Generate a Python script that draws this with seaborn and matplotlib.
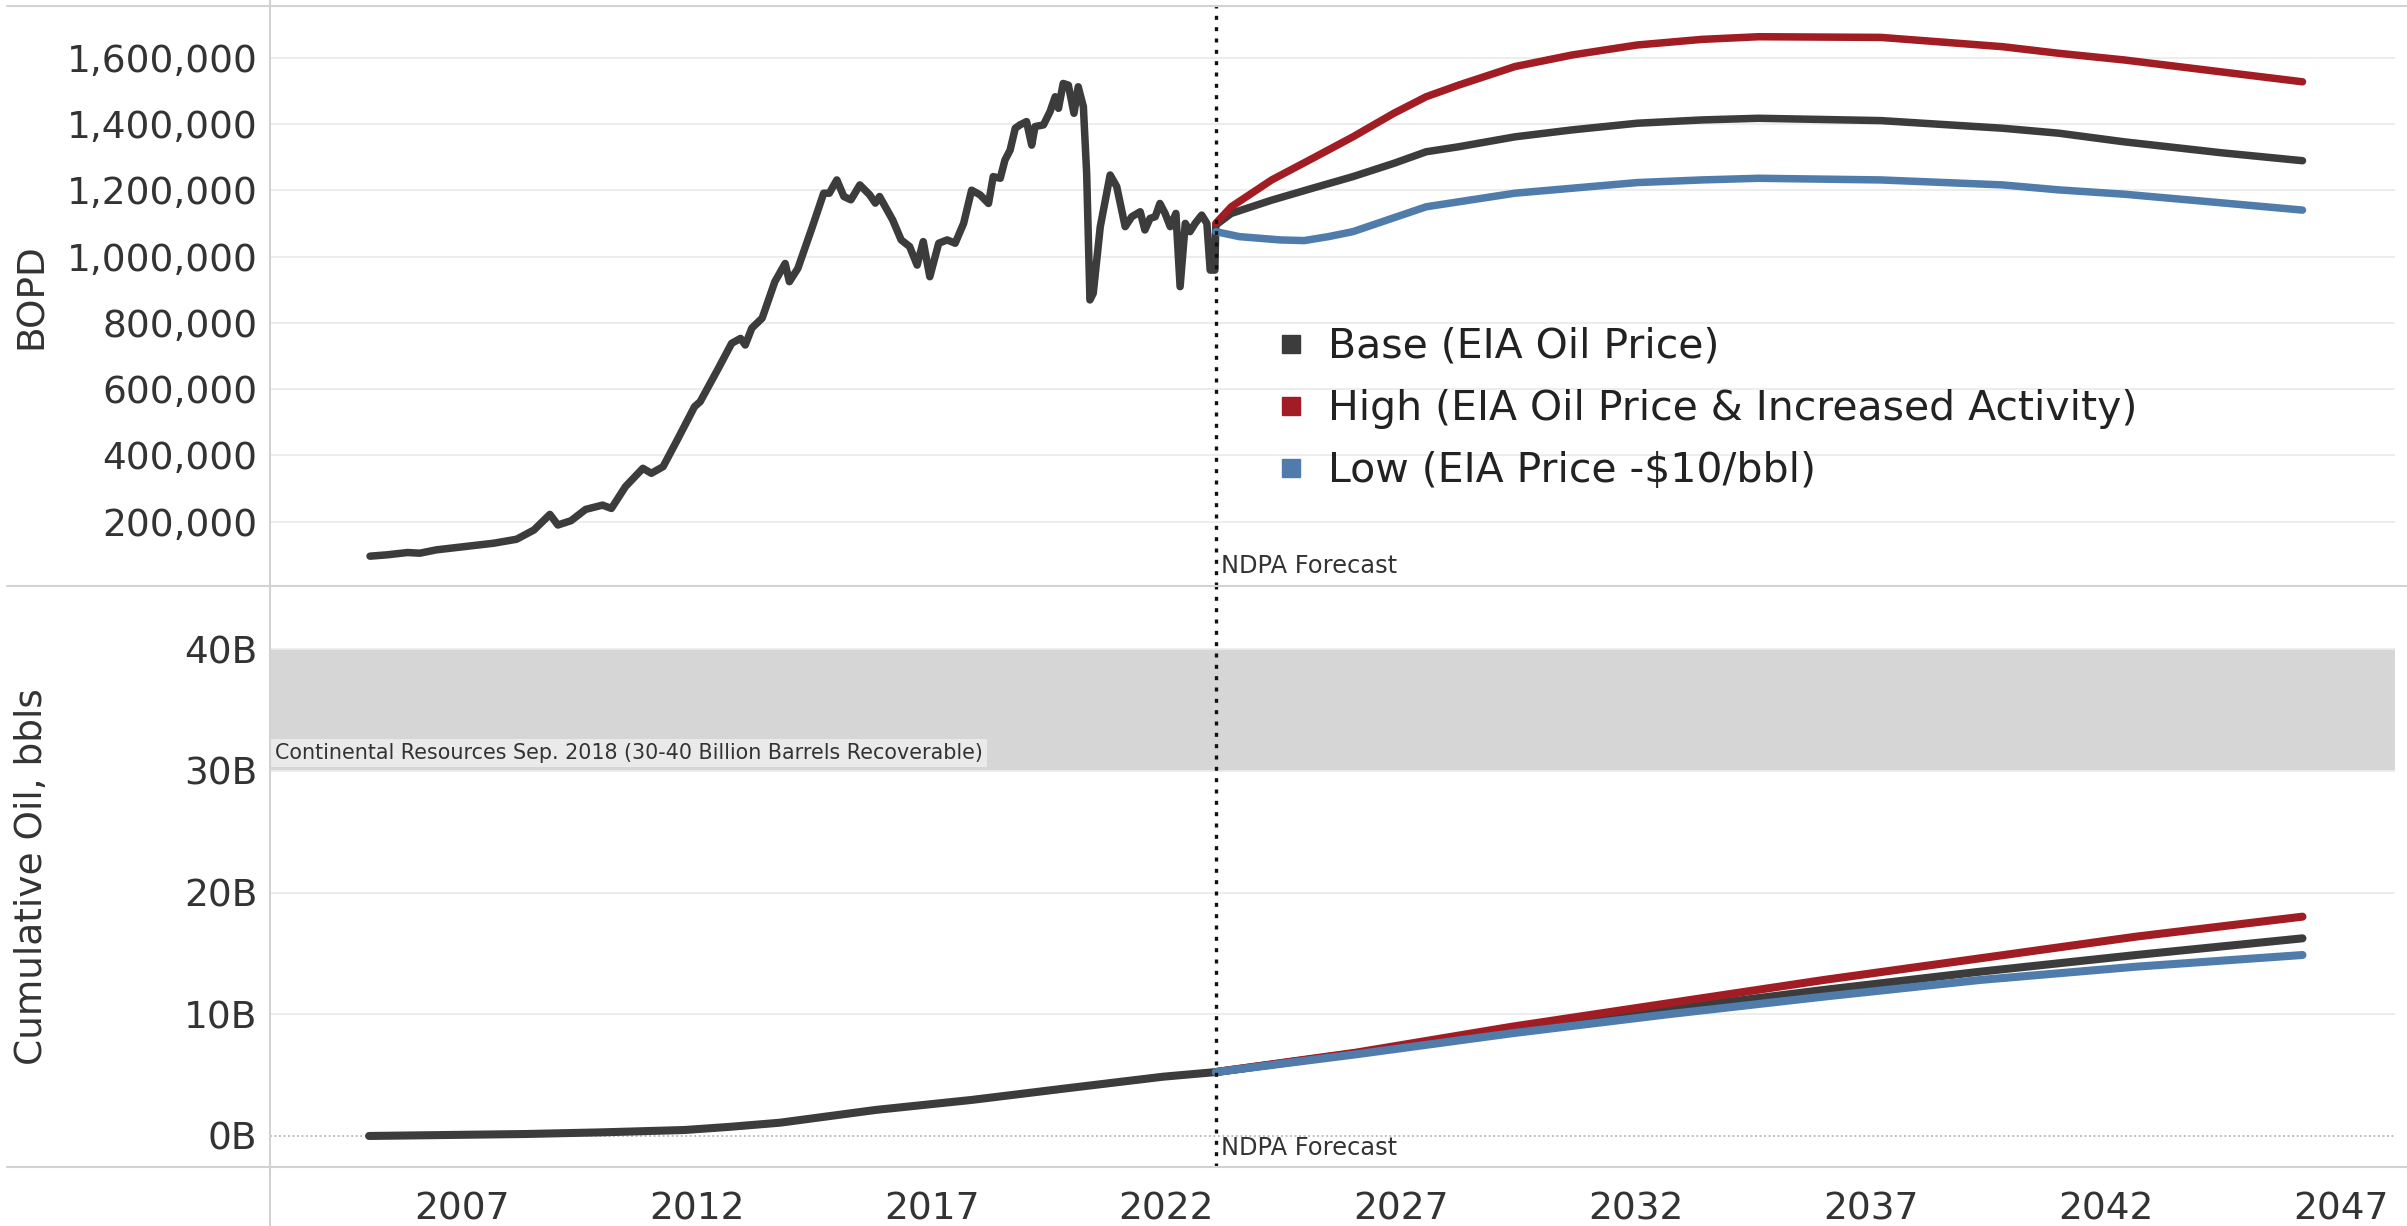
import pandas as pd
import matplotlib
matplotlib.use("Agg")
import matplotlib.pyplot as plt
import seaborn as sns
from matplotlib.lines import Line2D
from matplotlib.ticker import FuncFormatter

# %% data
hist_year = [2005.04, 2005.40, 2005.84, 2006.10, 2006.45, 2007.06, 2007.67, 2008.16,
             2008.53, 2008.87, 2009.04, 2009.32, 2009.63, 2009.99, 2010.18, 2010.48,
             2010.85, 2011.03, 2011.28, 2011.58, 2011.95, 2012.07, 2012.44, 2012.74,
             2012.93, 2013.03, 2013.17, 2013.39, 2013.66, 2013.88, 2013.97, 2014.15,
             2014.46, 2014.70, 2014.82, 2014.98, 2015.13, 2015.28, 2015.47, 2015.68,
             2015.80, 2015.89, 2016.17, 2016.35, 2016.53, 2016.69, 2016.82, 2016.96,
             2017.15, 2017.33, 2017.50, 2017.68, 2017.85, 2018.03, 2018.21, 2018.31,
             2018.46, 2018.56, 2018.67, 2018.78, 2018.88, 2019.02, 2019.13, 2019.20,
             2019.38, 2019.52, 2019.63, 2019.70, 2019.80, 2019.91, 2020.03, 2020.12,
             2020.23, 2020.30, 2020.37, 2020.44, 2020.59, 2020.80, 2020.94, 2021.12,
             2021.26, 2021.44, 2021.54, 2021.65, 2021.76, 2021.86, 2021.97, 2022.08,
             2022.20, 2022.29, 2022.40, 2022.50, 2022.61, 2022.75, 2022.86, 2022.93,
             2023.03]
hist_bopd = [96, 100, 107, 105, 115, 125, 135, 147,
             175, 222, 190, 203, 237, 250, 240, 306,
             361, 346, 366, 446, 547, 562, 658, 738,
             753, 733, 784, 814, 924, 979, 924, 964,
             1090, 1191, 1191, 1231, 1181, 1171, 1216, 1186,
             1161, 1181, 1110, 1050, 1030, 974, 1045, 939,
             1040, 1050, 1040, 1100, 1200, 1186, 1160, 1241,
             1236, 1291, 1321, 1387, 1397, 1407, 1336, 1392,
             1397, 1437, 1482, 1447, 1522, 1517, 1432, 1512,
             1452, 1251, 869, 889, 1090, 1246, 1211, 1090,
             1120, 1135, 1080, 1115, 1120, 1160, 1130, 1090,
             1130, 909, 1100, 1075, 1100, 1125, 1100, 959,
             959]

fc_year = [2023.05, 2023.38, 2024.24, 2025.11, 2025.97, 2026.84, 2027.53, 2028.22,
           2029.42, 2030.64, 2032.02, 2033.40, 2034.61, 2037.21, 2039.80, 2041.00,
           2042.39, 2044.46, 2046.19]
base_bopd = [1095, 1130, 1170, 1206, 1241, 1281, 1316, 1331,
             1361, 1382, 1402, 1412, 1417, 1410, 1387, 1372,
             1346, 1313, 1289]
high_bopd = [1100, 1150, 1231, 1296, 1361, 1432, 1482, 1517,
             1573, 1608, 1638, 1655, 1663, 1661, 1633, 1613,
             1593, 1557, 1527]
low_year = [2023.05, 2023.55, 2024.42, 2024.93, 2025.45, 2025.97, 2026.49, 2027.01,
            2027.53, 2029.42, 2030.64, 2032.02, 2033.40, 2034.61, 2037.21, 2039.80,
            2041.00, 2042.39, 2044.46, 2046.19]
low_bopd = [1075, 1060, 1050, 1048, 1060, 1075, 1100, 1125,
            1150, 1191, 1206, 1223, 1231, 1236, 1231, 1216,
            1201, 1188, 1162, 1140]

cum_hist_year = [2005.02, 2008.34, 2010.00, 2011.74, 2012.70, 2013.77, 2015.81, 2017.85,
                 2019.88, 2021.93]
cum_hist_bbl = [0.0, 0.16, 0.30, 0.49, 0.75, 1.09, 2.14, 2.96, 3.92, 4.87]
cum_fc_year = [2023.05, 2026.04, 2029.36, 2032.68, 2036.00, 2039.33, 2042.65, 2046.19]
cum_base = [5.25, 6.80, 8.71, 10.41, 12.00, 13.50, 14.87, 16.24]
cum_high = [5.25, 6.85, 8.98, 10.90, 12.82, 14.60, 16.38, 18.02]
cum_low = [5.25, 6.71, 8.44, 10.00, 11.45, 12.82, 13.91, 14.87]

scenarios = ["Base (EIA Oil Price)",
             "High (EIA Oil Price & Increased Activity)",
             "Low (EIA Price -$10/bbl)"]
colors = {scenarios[0]: "#3c3c3c", scenarios[1]: "#a21c23", scenarios[2]: "#4f7cab"}

year_ticks = [2007, 2012, 2017, 2022, 2027, 2032, 2037, 2042, 2047]
bopd_ticks = [200000, 400000, 600000, 800000, 1000000, 1200000, 1400000, 1600000]
cum_ticks = [0, 10, 20, 30, 40]
forecast_start = 2023.05
band_low, band_high = 30, 40
band_text = "Continental Resources Sep. 2018 (30-40 Billion Barrels Recoverable)"

# %% long-form tables
rate = pd.concat([
    pd.DataFrame({"year": hist_year + fc_year,
                  "bopd": [v * 1000 for v in hist_bopd + base_bopd],
                  "scenario": scenarios[0]}),
    pd.DataFrame({"year": fc_year, "bopd": [v * 1000 for v in high_bopd],
                  "scenario": scenarios[1]}),
    pd.DataFrame({"year": low_year, "bopd": [v * 1000 for v in low_bopd],
                  "scenario": scenarios[2]}),
])

cum = pd.concat([
    pd.DataFrame({"year": cum_hist_year + cum_fc_year, "bbl": cum_hist_bbl + cum_base,
                  "scenario": scenarios[0]}),
    pd.DataFrame({"year": cum_fc_year, "bbl": cum_high, "scenario": scenarios[1]}),
    pd.DataFrame({"year": cum_fc_year, "bbl": cum_low, "scenario": scenarios[2]}),
])

# %% plot
sns.set_theme(style="white")
plt.rcParams["font.family"] = ["DejaVu Sans"]

fig = plt.figure(figsize=(24.07, 12.26), dpi=100)
ax1 = fig.add_axes([270 / 2407, 1 - 586 / 1226, 2125 / 2407, 580 / 1226])
ax2 = fig.add_axes([270 / 2407, 1 - 1167 / 1226, 2125 / 2407, 581 / 1226], sharex=ax1)

sns.lineplot(data=rate, x="year", y="bopd", hue="scenario", hue_order=scenarios,
             palette=colors, estimator=None, sort=False, linewidth=5.4,
             solid_capstyle="round", legend=False, ax=ax1)
sns.lineplot(data=cum, x="year", y="bbl", hue="scenario", hue_order=scenarios,
             palette=colors, estimator=None, sort=False, linewidth=5.8,
             solid_capstyle="round", legend=False, ax=ax2)

ax2.axhspan(band_low, band_high, color="#d6d6d6", lw=0, zorder=0)
ax2.text(2003.02, 31.45, band_text, fontsize=14.9, color="#333333", va="center",
         ha="left", bbox=dict(facecolor="#eaeaea", edgecolor="none", pad=3))

for ax in (ax1, ax2):
    ax.axvline(forecast_start, color="#111111", lw=2.4, ls=(0, (1.2, 2.2)), zorder=5)
    for s in ax.spines.values():
        s.set_visible(False)
    ax.grid(axis="y", color="#ececec", lw=1.3)
    ax.grid(axis="x", visible=False)
    ax.set_xlabel("")
    ax.tick_params(axis="both", length=0, labelsize=27, labelcolor="#333333")
    ax.tick_params(axis="y", pad=9)

ax1.text(forecast_start + 0.12, 66000, "NDPA Forecast", fontsize=17.4,
         color="#333333", va="center", ha="left")
ax2.text(forecast_start + 0.12, -1.0, "NDPA Forecast", fontsize=17.4,
         color="#333333", va="center", ha="left")

ax1.set_xlim(2002.91, 2048.16)
ax1.set_ylim(6000, 1755700)
ax1.set_yticks(bopd_ticks)
ax1.yaxis.set_major_formatter(FuncFormatter(lambda v, p: f"{v:,.0f}"))
ax1.tick_params(axis="x", labelbottom=False)
ax1.set_ylabel("BOPD", fontsize=27, color="#333333")
ax1.yaxis.set_label_coords(-0.1035, 0.5)

ax2.set_ylim(-2.55, 45.19)
ax2.set_yticks(cum_ticks)
ax2.yaxis.set_major_formatter(FuncFormatter(lambda v, p: f"{v:.0f}B"))
ax2.get_ygridlines()[0].set_linestyle((0, (1, 1.5)))
ax2.get_ygridlines()[0].set_color("#b5b5b5")
ax2.set_xticks(year_ticks)
ax2.tick_params(axis="x", pad=18)
ax2.set_ylabel("Cumulative Oil, bbls", fontsize=27, color="#333333")
ax2.yaxis.set_label_coords(-0.1035, 0.5)

handles = [Line2D([], [], marker="s", ls="", color=colors[s], markersize=13)
           for s in scenarios]
ax1.legend(handles, scenarios, loc="upper left", bbox_to_anchor=(0.465, 0.475),
           frameon=False, fontsize=29.5, handlelength=0.8, handletextpad=0.5,
           labelspacing=0.54, borderaxespad=0, labelcolor="#222222")

# panel frame lines
for y in (6, 586, 1167):
    fig.add_artist(Line2D([0.003, 1], [1 - y / 1226] * 2, transform=fig.transFigure,
                          color="#d2d2d2", lw=1.5))
fig.add_artist(Line2D([270 / 2407] * 2, [0, 1], transform=fig.transFigure,
                      color="#d2d2d2", lw=1.5))

fig.savefig("out.png", dpi=100)
